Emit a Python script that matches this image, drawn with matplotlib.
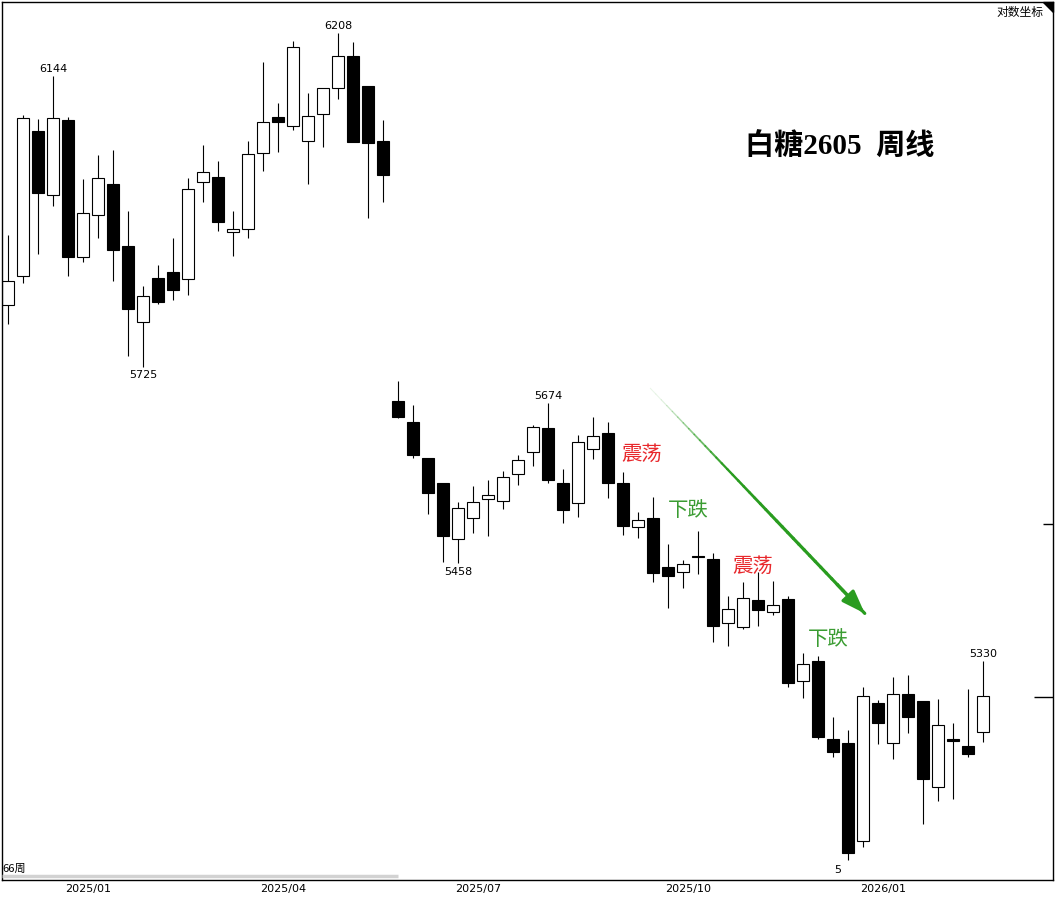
import matplotlib
matplotlib.use("Agg")
import matplotlib.pyplot as plt
import numpy as np
from matplotlib.collections import LineCollection
from matplotlib.ticker import FixedLocator, NullFormatter
from matplotlib.transforms import ScaledTranslation

plt.rcParams["font.family"] = ["DejaVu Sans"]
CJK = ["Noto Sans CJK SC", "DejaVu Sans"]

# weekly OHLC, 白糖2605
opens = [5812, 5853, 6062, 5968, 6079, 5880, 5940, 5984, 5895, 5788,
         5849, 5858, 5848, 5987, 5995, 5915, 5920, 6030, 6083, 6069,
         6047, 6087, 6126, 6174, 6129, 6048,
         5678, 5649, 5599, 5565, 5490, 5518, 5544, 5541, 5578, 5608,
         5640, 5566, 5538, 5612, 5634, 5565, 5506, 5518, 5453, 5446,
         5468, 5464, 5380, 5374, 5410, 5394, 5411, 5304, 5330, 5230,
         5225, 5102, 5276, 5225, 5287, 5278, 5169, 5230, 5221, 5239]
highs = [5911, 6085, 6080, 6144, 6083, 5992, 6027, 6034, 5946, 5838,
         5868, 5906, 5994, 6042, 6018, 5946, 6048, 6165, 6103, 6196,
         6118, 6126, 6208, 6195, 6129, 6079,
         5705, 5672, 5599, 5566, 5540, 5562, 5570, 5582, 5604, 5644,
         5674, 5585, 5631, 5656, 5649, 5581, 5527, 5546, 5483, 5463,
         5501, 5472, 5415, 5433, 5446, 5435, 5415, 5340, 5336, 5258,
         5242, 5296, 5280, 5309, 5312, 5278, 5281, 5250, 5294, 5330]
lows = [5785, 5842, 5884, 5952, 5853, 5872, 5906, 5845, 5740, 5725,
        5813, 5819, 5826, 5958, 5916, 5881, 5906, 6003, 6031, 6063,
        5985, 6038, 6110, 6046, 5936, 5958,
        5654, 5599, 5524, 5460, 5458, 5498, 5494, 5530, 5563, 5588,
        5566, 5512, 5520, 5598, 5545, 5495, 5492, 5433, 5399, 5426,
        5444, 5355, 5349, 5372, 5375, 5390, 5296, 5283, 5230, 5207,
        5079, 5095, 5224, 5205, 5238, 5123, 5152, 5155, 5207, 5226]
closes = [5845, 6081, 5972, 6081, 5880, 5943, 5993, 5889, 5806, 5824,
          5815, 5833, 5978, 6002, 5929, 5919, 6028, 6075, 6076, 6187,
          6084, 6126, 6174, 6046, 6044, 5997,
          5656, 5603, 5552, 5494, 5532, 5540, 5549, 5574, 5596, 5642,
          5569, 5529, 5621, 5629, 5565, 5507, 5516, 5445, 5441, 5457,
          5466, 5376, 5398, 5412, 5396, 5403, 5301, 5326, 5232, 5213,
          5087, 5285, 5250, 5287, 5258, 5180, 5248, 5228, 5211, 5285]

date_weeks = [5, 18, 31, 45, 58]
date_labels = ["2025/01", "2025/04", "2025/07", "2025/10", "2026/01"]

# weeks whose extreme is printed on the chart
high_label_weeks = [3, 22, 36, 65]
low_label_weeks = [9, 30]

note_texts = ["震荡", "下跌", "震荡", "下跌"]
note_weeks = [42.25, 45.3, 49.65, 54.65]
note_prices = [5604, 5528, 5454, 5358]
note_colors = ["#e8282c", "#3a9c32", "#e8282c", "#3a9c32"]

arrow_weeks = [42.8, 57.1]
arrow_prices = [5695, 5392]

right_marks = [5510]
right_marks_long = [5284]

fig = plt.figure(figsize=(10.57, 8.99), dpi=100)
ax = fig.add_axes([2 / 1057, 19 / 899, 1051 / 1057, 878 / 899])
ax.set_yscale("log")

x = np.arange(len(opens))
o = np.array(opens)
c = np.array(closes)
up = c >= o
body_lo = np.minimum(o, c)
body_hi = np.maximum(o, c)

ax.vlines(x, lows, highs, color="black", linewidth=0.8, zorder=1)
ax.bar(x, body_hi - body_lo, bottom=body_lo, width=0.78,
       color=np.where(up, "white", "black"), edgecolor="black",
       linewidth=0.8, zorder=2)

for w in high_label_weeks:
    ax.annotate(str(highs[w]), xy=(w, highs[w]), xytext=(0, 1.5),
                textcoords="offset points", ha="center", va="bottom",
                fontsize=8)
for w in low_label_weeks:
    ax.annotate(str(lows[w]), xy=(w, lows[w]), xytext=(0, -2.5),
                textcoords="offset points", ha="center", va="top",
                fontsize=8)
# lowest week: label mostly hidden under a watermark, only first digit shows
low_week = int(np.argmin(lows))
ax.annotate(str(lows[low_week])[0], xy=(low_week, lows[low_week]),
            xytext=(-10, -4), textcoords="offset points", ha="left",
            va="top", fontsize=8)

for txt, w, p, col in zip(note_texts, note_weeks, note_prices, note_colors):
    ax.text(w, p, txt, color=col, fontsize=14.7, family=CJK,
            ha="center", va="center")

# trend arrow, thin and faded at the start
green = "#2a9c20"
n = 40
xs = np.linspace(arrow_weeks[0], arrow_weeks[1], n)
ys = np.exp(np.linspace(np.log(arrow_prices[0]), np.log(arrow_prices[1]), n))
segs = [[(xs[i], ys[i]), (xs[i + 1], ys[i + 1])] for i in range(n - 1)]
ramp = np.linspace(0, 1, n - 1)
alphas = np.clip(ramp / 0.35, 0.1, 1)
shaft = LineCollection(segs, linewidths=0.7 + 1.6 * np.clip(ramp / 0.6, 0, 1),
                       colors=[(0.16, 0.61, 0.12, a) for a in alphas],
                       capstyle="round", zorder=3)
ax.add_collection(shaft)
ax.annotate("", xy=(xs[-1], ys[-1]), xytext=(xs[-6], ys[-6]),
            arrowprops=dict(arrowstyle="-|>,head_length=1.4,head_width=0.5",
                            color=green, lw=2.3, shrinkA=0, shrinkB=0),
            zorder=3)

ax.set_xlim(-0.42, 69.65)
ax.set_ylim(5054, 6255)

ax.set_xticks(date_weeks, date_labels)
ax.tick_params(axis="x", length=0, pad=3, labelsize=8)
shift = ScaledTranslation(5 / 100, 0, fig.dpi_scale_trans)
for lbl in ax.get_xticklabels():
    lbl.set_transform(lbl.get_transform() + shift)

ax.yaxis.set_ticks_position("right")
ax.yaxis.set_major_locator(FixedLocator(right_marks))
ax.yaxis.set_minor_locator(FixedLocator(right_marks_long))
ax.yaxis.set_major_formatter(NullFormatter())
ax.yaxis.set_minor_formatter(NullFormatter())
ax.tick_params(axis="y", which="major", direction="in", length=7, width=1)
ax.tick_params(axis="y", which="minor", direction="in", length=14, width=1)

for sp in ax.spines.values():
    sp.set_color("black")
    sp.set_linewidth(1)

# scroll bar and week count in the lower left
ax.plot([0, 396 / 1051], [0.004, 0.004], transform=ax.transAxes,
        color="#d2d2d2", linewidth=2.5, solid_capstyle="butt", zorder=4)
ax.text(0.0, 0.007, f"{len(opens)}周", transform=ax.transAxes,
        ha="left", va="bottom", fontsize=8, family=CJK)

# corner marker and scale mode caption
ax.fill([1 - 10 / 1051, 1, 1], [1, 1, 1 - 10 / 878], transform=ax.transAxes,
        color="black", clip_on=False, zorder=5)
fig.text(1043 / 1057, 1 - 12 / 899, "对数坐标", ha="right", va="center",
         fontsize=8.5, family=CJK)

fig.text(745 / 1057, 1 - 147 / 899, "白糖2605  周线", ha="left", va="center",
         fontsize=21, fontweight="bold",
         family=["Liberation Serif", "Noto Sans CJK SC"])

fig.savefig("out.png", dpi=100)
plt.close(fig)
